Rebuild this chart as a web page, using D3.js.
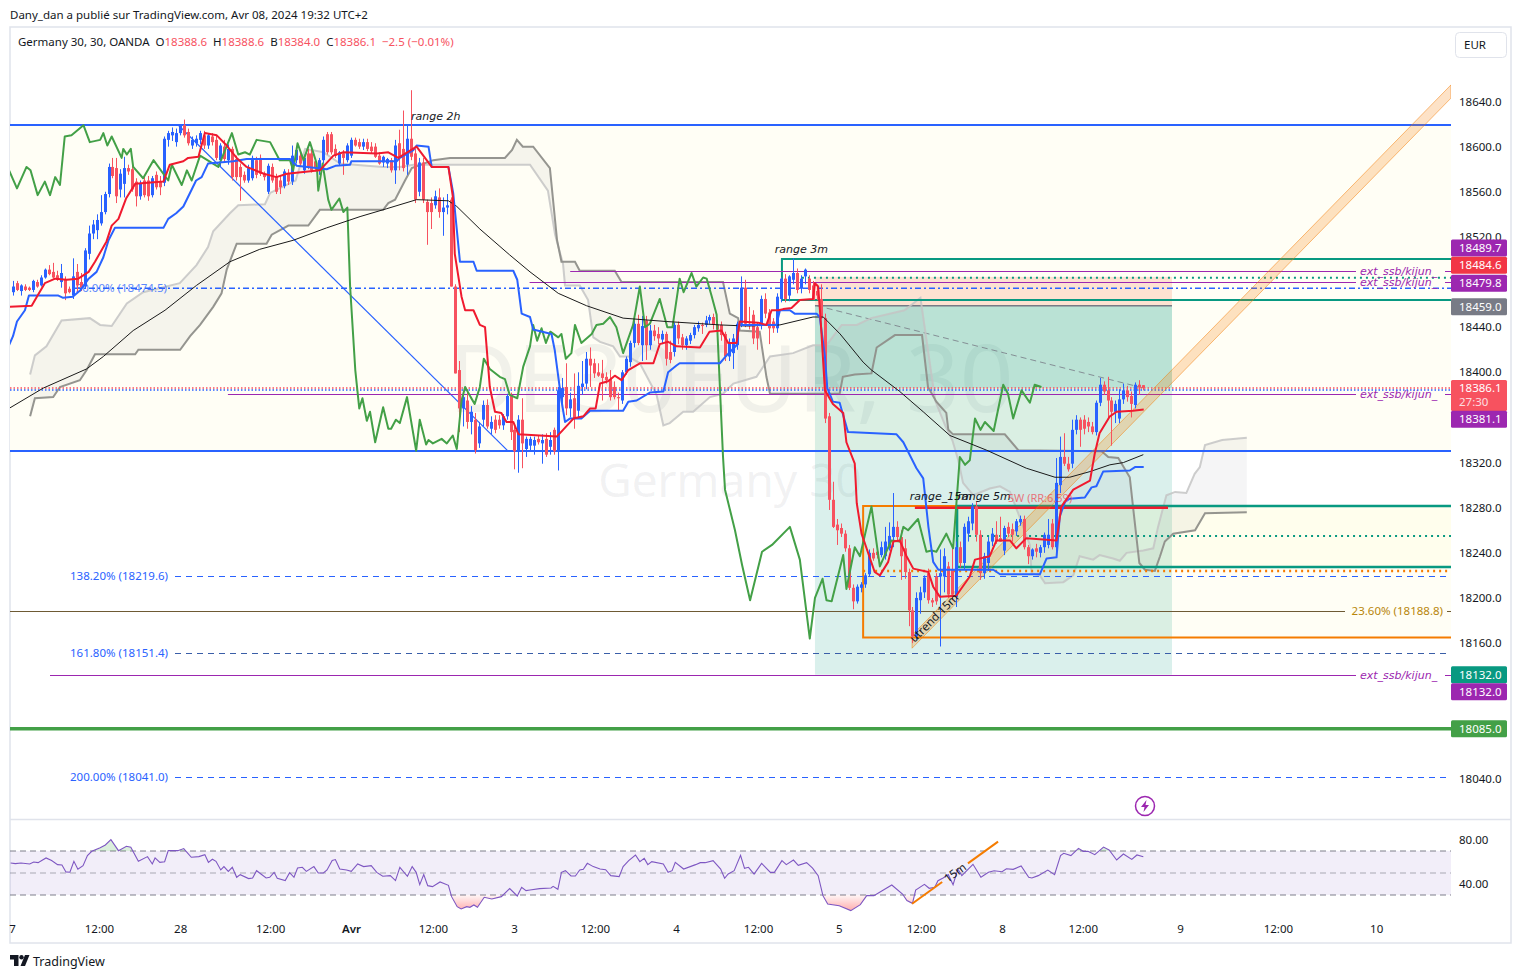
<!DOCTYPE html>
<html><head><meta charset="utf-8">
<script src="https://cdnjs.cloudflare.com/ajax/libs/d3/7.8.5/d3.min.js"></script>
<style>
html,body{margin:0;padding:0;background:#fff}
svg{display:block}
text{font-family:"Noto Sans",sans-serif}
text.it{font-family:"DejaVu Sans",sans-serif;font-style:italic}
</style></head><body>
<svg id="c" width="1521" height="979"></svg>
<script>
// ---------- DATA ----------
const priceTicks=[18640,18600,18560,18520,18440,18400,18320,18280,18240,18200,18160,18040];
const rsiTicks=[80,40];
const timeLabels=["7","12:00","28","12:00","Avr","12:00","3","12:00","4","12:00","5","12:00","8","12:00","9","12:00","10"];
const timeBars=[-0.25,21.6,42,64.6,84.9,105.5,125.9,146.2,166.6,187.2,207.5,228.1,248.5,268.8,293.2,317.8,342.5];
const candles=[
[18471,18481,18468,18476],[18479,18481,18472,18473],[18472,18478,18468,18477],[18476,18478,18472,18473],[18475,18476,18472,18473],[18473,18482,18471,18481],[18480,18482,18475,18476],[18477,18486,18476,18484],[18484,18492,18483,18491],[18491,18495,18486,18487],
[18489,18497,18483,18484],[18486,18490,18481,18482],[18480,18496,18475,18488],[18482,18485,18464,18470],[18474,18476,18470,18471],[18468,18501,18465,18485],[18489,18496,18471,18477],[18480,18488,18472,18475],[18476,18510,18474,18508],[18505,18530,18500,18523],
[18523,18535,18518,18531],[18526,18540,18518,18535],[18532,18557,18530,18542],[18542,18560,18540,18558],[18558,18585,18555,18582],[18582,18590,18572,18574],[18581,18590,18550,18556],[18562,18580,18555,18576],[18567,18591,18555,18581],[18581,18584,18575,18578],
[18580,18585,18560,18562],[18569,18572,18547,18556],[18556,18570,18553,18567],[18570,18573,18555,18557],[18570,18574,18552,18556],[18557,18574,18555,18572],[18575,18578,18562,18564],[18569,18574,18557,18564],[18568,18609,18565,18607],[18606,18614,18600,18612],
[18610,18617,18605,18613],[18604,18616,18600,18612],[18612,18620,18610,18619],[18619,18624,18608,18610],[18613,18616,18601,18603],[18601,18609,18598,18606],[18603,18610,18600,18607],[18606,18614,18602,18612],[18610,18614,18598,18601],[18601,18612,18598,18610],
[18609,18612,18601,18604],[18606,18610,18588,18590],[18588,18603,18582,18601],[18600,18606,18586,18589],[18588,18602,18584,18598],[18598,18600,18570,18573],[18589,18592,18570,18573],[18582,18585,18552,18573],[18575,18578,18568,18570],[18570,18584,18568,18581],
[18572,18592,18570,18590],[18588,18591,18572,18575],[18590,18593,18574,18576],[18576,18578,18570,18573],[18560,18585,18558,18583],[18582,18585,18568,18570],[18573,18576,18558,18560],[18570,18574,18558,18564],[18565,18580,18563,18578],[18576,18580,18566,18569],
[18569,18601,18566,18592],[18588,18600,18585,18597],[18592,18596,18582,18585],[18579,18593,18576,18590],[18594,18598,18580,18582],[18594,18600,18577,18579],[18587,18590,18578,18581],[18579,18590,18575,18588],[18588,18609,18585,18606],[18611,18613,18593,18595],
[18611,18613,18593,18595],[18598,18602,18590,18592],[18585,18596,18583,18595],[18594,18597,18575,18590],[18588,18603,18586,18601],[18592,18608,18590,18606],[18606,18608,18600,18601],[18604,18607,18598,18600],[18600,18607,18597,18604],[18604,18607,18596,18598],
[18600,18604,18594,18596],[18600,18603,18590,18591],[18592,18595,18584,18585],[18586,18592,18582,18591],[18585,18590,18581,18589],[18588,18590,18577,18579],[18579,18606,18567,18601],[18603,18615,18579,18590],[18598,18632,18578,18581],[18584,18619,18575,18607],
[18607,18650,18588,18591],[18594,18598,18550,18553],[18560,18590,18556,18586],[18586,18590,18550,18553],[18551,18553,18513,18542],[18550,18555,18527,18542],[18548,18561,18545,18556],[18555,18563,18537,18542],[18542,18555,18521,18546],[18546,18558,18540,18548],
[18553,18555,18476,18476],[18476,18478,18399,18399],[18402,18410,18347,18368],[18368,18382,18352,18378],[18375,18385,18350,18356],[18356,18370,18345,18365],[18358,18364,18328,18331],
[18337,18356,18333,18352],[18358,18375,18352,18371],[18371,18376,18350,18352],[18350,18361,18345,18356],[18358,18362,18346,18349],[18358,18362,18350,18353],[18353,18363,18349,18361],[18361,18381,18358,18379],[18380,18382,18340,18347],[18349,18352,18314,18330],
[18330,18362,18311,18358],[18358,18377,18315,18337],[18332,18343,18325,18341],[18335,18343,18331,18341],[18335,18343,18327,18340],[18341,18344,18336,18338],[18337,18345,18319,18340],[18341,18346,18325,18327],[18334,18347,18327,18340],[18349,18351,18327,18330],
[18330,18387,18313,18384],[18378,18395,18370,18386],[18387,18408,18362,18368],[18368,18382,18360,18376],[18377,18399,18350,18359],[18366,18400,18360,18388],[18387,18410,18380,18390],[18390,18418,18385,18412],[18412,18422,18387,18406],[18408,18412,18395,18399],
[18400,18408,18396,18397],[18399,18411,18375,18395],[18396,18400,18390,18393],[18394,18402,18375,18378],[18387,18392,18376,18378],[18378,18382,18366,18377],[18375,18402,18372,18400],[18400,18414,18398,18412],[18409,18428,18405,18426],[18426,18446,18422,18443],
[18443,18451,18424,18426],[18424,18450,18410,18441],[18446,18450,18411,18424],[18424,18442,18420,18437],[18437,18442,18428,18432],[18434,18440,18425,18430],[18429,18437,18425,18434],[18434,18436,18406,18412],[18418,18428,18408,18411],[18418,18444,18414,18442],
[18442,18445,18425,18430],[18431,18434,18420,18424],[18424,18432,18420,18430],[18428,18435,18425,18433],[18433,18442,18430,18440],[18439,18445,18436,18442],[18442,18444,18434,18441],[18442,18450,18440,18446],[18446,18451,18443,18449],[18449,18452,18438,18442],
[18442,18446,18436,18438],[18442,18445,18428,18433],[18434,18436,18410,18414],[18414,18430,18410,18426],[18417,18434,18403,18430],[18424,18445,18420,18443],[18443,18485,18440,18475],[18475,18482,18440,18443],[18443,18458,18438,18441],[18451,18455,18425,18430],
[18440,18444,18420,18430],[18442,18468,18438,18465],[18465,18470,18448,18452],[18453,18456,18425,18439],[18445,18448,18435,18439],[18439,18470,18435,18467],[18465,18484,18462,18483],[18483,18487,18462,18465],[18468,18486,18463,18485],[18482,18501,18478,18488],
[18488,18492,18470,18473],[18474,18486,18470,18483],[18485,18492,18478,18491],[18483,18486,18470,18473],[18477,18481,18464,18464],[18472,18476,18464,18468],[18465,18478,18447,18448],
[18448,18452,18355,18359],[18361,18364,18278,18287],[18287,18303,18262,18263],[18265,18270,18247,18260],[18262,18266,18254,18257],[18257,18260,18241,18244],[18244,18247,18207,18209],[18209,18212,18190,18197],[18197,18212,18195,18210],[18209,18214,18205,18212],
[18212,18222,18209,18220],[18221,18243,18219,18240],[18240,18244,18233,18235],[18241,18244,18235,18238],[18238,18250,18236,18245],[18237,18263,18234,18250],[18244,18267,18242,18255],[18254,18293,18245,18263],[18263,18268,18250,18254],[18254,18260,18216,18237],
[18244,18252,18217,18223],[18223,18226,18175,18189],[18189,18192,18160,18166],[18166,18205,18163,18200],[18198,18210,18186,18205],[18205,18220,18200,18218],[18222,18226,18195,18198],[18198,18200,18192,18196],[18219,18222,18194,18197],[18219,18243,18157,18222],
[18219,18244,18205,18237],[18228,18232,18200,18203],[18225,18244,18198,18203],[18201,18250,18192,18245],[18245,18250,18227,18231],[18231,18266,18225,18263],[18257,18272,18250,18268],[18266,18284,18260,18281],[18281,18285,18250,18256],[18256,18260,18216,18222],
[18222,18240,18217,18237],[18231,18254,18224,18250],[18250,18262,18246,18257],[18256,18268,18248,18250],[18253,18272,18250,18250],[18242,18264,18238,18262],[18263,18267,18254,18257],[18261,18266,18250,18256],[18259,18270,18255,18268],[18267,18273,18264,18270],
[18270,18273,18243,18245],[18245,18247,18230,18237],[18237,18244,18234,18243],[18244,18248,18236,18241],[18240,18247,18236,18245],[18245,18258,18240,18256],[18247,18270,18244,18256],[18266,18270,18243,18245],[18245,18324,18240,18302],[18300,18343,18293,18325],
[18325,18346,18317,18319],[18319,18325,18312,18314],[18319,18358,18315,18349],[18349,18362,18345,18358],[18358,18360,18334,18349],[18358,18362,18345,18350],[18356,18360,18347,18352],[18352,18356,18345,18347],[18347,18375,18344,18373],[18373,18395,18370,18389],
[18389,18392,18380,18383],[18384,18396,18359,18375],[18375,18378,18335,18365],[18365,18375,18355,18372],[18359,18385,18355,18376],[18376,18390,18372,18384],[18384,18388,18374,18378],[18379,18383,18360,18372],[18371,18391,18368,18389],[18389,18393,18380,18387],[18388.6,18388.6,18384,18386.1]];
const kijun=[[-1,18424],[0,18432],[1,18445],[3,18455],[4,18468],[11.4,18468],[12.6,18466],[15,18467],[17,18473],[19,18483],[21,18489],[22.7,18502],[24,18517],[25.6,18528],[37.8,18528],[39,18536],[41,18541],[42.8,18547],[44.9,18562],[46,18570],[47.4,18573],[49,18585],[55.4,18587],[58.7,18589],[69.6,18589],[71.3,18583],[78.8,18580],[81,18583],[84.7,18584],[85,18587],[96.4,18587],[97.2,18590],[100.6,18597],[101.4,18601],[104.4,18600],[105.2,18582],[109.4,18582],[110.6,18559],[112.3,18498],[115.7,18498],[116.5,18490],[125.7,18490],[126.7,18482],[127.8,18452],[129.9,18449],[130.7,18438],[135.3,18434],[136.1,18420],[137.8,18375],[138.7,18356],[139.9,18359],[142.8,18359],[145,18366],[153.3,18366],[154.6,18374],[156.7,18375],[160,18382],[163.4,18383],[164.6,18400],[166.7,18406],[167.5,18408],[177.6,18408],[179.3,18415],[181.8,18424],[182.2,18442],[191.8,18442],[192.7,18455],[195.2,18455],[196.4,18452],[201.9,18452],[202.7,18449],[204,18414],[204.6,18386],[206,18374],[207.7,18373],[209.8,18347],[222,18345],[223.7,18338],[227,18315],[228.7,18306],[230,18263],[231.2,18232],[232.5,18225],[246.3,18225],[248,18221],[258,18221],[259.7,18235],[262.2,18236],[263,18272],[264.3,18285],[265.5,18288],[269.3,18289],[271,18298],[272.2,18299],[273.9,18312],[280.6,18313],[281.9,18316],[284.1,18316]];
const tenkan=[[-1,18458],[4.7,18459],[6,18467],[8,18479],[10.6,18483],[13.5,18482],[16.4,18483],[19,18489],[20.6,18498],[23.5,18516],[24.8,18530],[26.5,18536],[28.4,18554],[30.7,18567],[37.8,18569],[39.4,18584],[42.8,18587],[44,18590],[46.6,18591],[48.2,18612],[51.2,18610],[53.7,18601],[56.2,18590],[58.7,18582],[63,18576],[66.2,18573],[68.8,18576],[77.1,18579],[80.5,18592],[83,18595],[91.4,18594],[94.3,18595],[96.8,18590],[101.4,18600],[105.2,18582],[109.4,18582],[110.5,18556],[111,18505],[112.7,18467],[113.6,18455],[115.7,18455],[117.3,18442],[118.6,18440],[119.8,18387],[121.1,18365],[122.7,18364],[124,18356],[125.7,18356],[127,18345],[136.6,18343],[138.2,18349],[140.8,18359],[143.3,18361],[145,18368],[146.4,18368],[147.5,18390],[149.5,18392],[151.2,18397],[152.9,18393],[154.6,18402],[157.5,18408],[160.9,18408],[162.5,18425],[164.6,18427],[166.7,18423],[172.6,18422],[175,18436],[178,18437],[179.7,18426],[181.8,18426],[182.6,18445],[187.2,18444],[189.3,18442],[190.6,18455],[192.3,18455],[193.5,18456],[195.6,18457],[197.7,18464],[201,18465],[201.5,18479],[202.3,18476],[202.9,18448],[204,18384],[206,18372],[208.6,18364],[209.4,18338],[211.5,18319],[212,18284],[213.2,18257],[216.5,18223],[217.8,18220],[219.9,18232],[221.2,18250],[222.8,18251],[224.5,18237],[226.2,18226],[230,18223],[231.2,18210],[232.9,18201],[237,18202],[240.4,18219],[241.7,18234],[245.4,18237],[247.1,18251],[250.5,18251],[252.1,18244],[254.6,18253],[262.2,18251],[263.4,18281],[266.4,18296],[270.6,18304],[271.8,18328],[273,18346],[275.6,18361],[277.3,18365],[281.4,18366],[284.1,18367]];
const chikou=[[-1,18579],[1,18563],[3.4,18582],[4.4,18579],[6.2,18557],[8,18569],[9.3,18557],[10.6,18573],[11.8,18566],[13,18609],[14.7,18610],[17.7,18619],[19.3,18604],[21.9,18606],[22.7,18612],[23.7,18601],[24.8,18609],[27.3,18590],[27.7,18598],[28.6,18593],[29.6,18598],[30.2,18582],[32.7,18572],[35.3,18588],[39,18570],[39.9,18584],[42.4,18566],[43.7,18579],[44.9,18570],[47,18592],[51.6,18582],[55,18612],[56.6,18593],[58.3,18595],[59.5,18593],[61.2,18606],[64.6,18604],[67,18588],[69.6,18588],[70.4,18579],[71.5,18603],[73,18588],[74.6,18604],[76.3,18585],[76.7,18561],[77.8,18585],[79.2,18553],[80,18544],[82,18554],[83,18542],[84,18546],[84.7,18476],[86,18402],[87,18368],[87.8,18377],[88.9,18357],[89.7,18365],[91,18338],[93,18369],[94.3,18350],[95,18350],[96.2,18358],[97.2,18355],[99,18378],[101.3,18330.5],[102.2,18358],[103.8,18336],[104.4,18340],[105.5,18337],[107.7,18341],[109,18337],[110.5,18344],[111.5,18332],[112.7,18375],[113.6,18387],[115,18378],[116,18372],[117.3,18387],[118.3,18412],[119.8,18403],[122.3,18396],[123.6,18394],[124.8,18380],[126.7,18377],[128.2,18405],[129.9,18423],[130.7,18442],[131.7,18428],[132.8,18439],[133.9,18426],[135,18436],[137,18431],[137.8,18434],[138.9,18412],[140.3,18417],[141.2,18442],[142.8,18426],[145.4,18434],[146.6,18442],[148.3,18443],[150,18449],[151.6,18440],[153.3,18417],[155.8,18442],[157.5,18476],[158.8,18440],[160,18443],[162.5,18465],[164.4,18440],[165.7,18440],[167.5,18483],[168.5,18471],[170.5,18488],[171.7,18476],[173.4,18484],[174.3,18483],[175.5,18468],[176.8,18451],[178.4,18325],[178.9,18296],[181.4,18260],[183.2,18229],[185.2,18198],[188.2,18241],[190.7,18247],[195.2,18263],[197.7,18234],[200.2,18164],[201.5,18200],[203.4,18217],[204.4,18198],[205.7,18197],[208.6,18238],[209.4,18208],[211.5,18245],[212.8,18237],[215.7,18281],[217.8,18228],[220.7,18251],[222.8,18250],[223.7,18263],[224.9,18260],[227.4,18270],[229.5,18241],[230.8,18242],[232,18241],[234.5,18257],[236.2,18244],[237.9,18325],[239.2,18318],[240.4,18322],[241.7,18359],[243.1,18349],[244.2,18356],[246.4,18348],[248.8,18389],[250,18381],[251.3,18359],[253.4,18384],[255.5,18373],[256.7,18389],[258.4,18387]];
const sma=[[-1,18368],[7.6,18386],[18.5,18403],[22.7,18414],[30.2,18437],[38.2,18455],[46.1,18477],[54.5,18498],[62,18509],[70.4,18517],[78.8,18528],[87.2,18538],[93.9,18545],[101.4,18553],[109.4,18552],[111.5,18547],[117.3,18527],[124.8,18504],[129.9,18489],[137,18470],[144.1,18459],[153.3,18448],[164.2,18445],[177.6,18442],[184.3,18441],[192.7,18442],[201,18449],[203.6,18449],[207.8,18434],[213.6,18409],[215.7,18402],[222.8,18383],[228.7,18365],[235.4,18344],[244.6,18331],[254.6,18315],[261.8,18307],[265.5,18307],[270.6,18312],[275.6,18318],[279,18320],[284,18327]];
const senkouA=[[4.3,18398],[5.5,18415],[8.4,18423],[12.2,18446],[19.3,18448],[21.9,18442],[24.8,18441],[28.6,18461],[32.7,18471],[41.9,18479],[46.1,18495],[49,18511],[50.3,18525],[54.5,18541],[56.6,18548],[63.3,18549],[64.6,18559],[71,18570],[73.4,18598],[78,18595],[82.2,18585],[88.9,18583],[93,18582],[97.2,18582],[100.6,18584],[104.8,18584],[117.3,18584],[123.6,18584],[129.9,18584],[134.4,18561],[136.2,18522],[138.2,18496],[138.7,18477],[142.4,18477],[144.5,18464],[145.8,18431],[147.5,18427],[150.8,18423],[152.5,18414],[154.6,18414],[157.5,18408],[161.7,18380],[163.4,18353],[165,18355],[168.4,18365],[170.9,18365],[175.1,18378],[178.4,18381],[181,18390],[186.8,18396],[190.2,18414],[196,18417],[201,18424],[204.4,18424],[208.2,18442],[212,18442],[215.6,18448],[224,18455],[228,18466],[231.7,18375],[234.2,18353],[236,18340],[237.5,18322],[238.7,18302],[241.3,18291],[245.4,18297],[248,18299],[250.5,18294],[253,18271],[255.5,18247],[255.9,18222],[258,18220],[259.3,18213],[263.9,18214],[266.4,18220],[268,18237],[271.4,18234],[273,18238],[276.4,18235],[278.1,18233],[279.8,18240],[284,18242],[286.5,18244],[287.7,18263],[289.8,18291],[292,18294],[294.8,18293],[296.9,18310],[298.2,18316],[299.5,18335.5],[303.8,18340],[310,18342]];
const senkouB=[[4.3,18361],[5.5,18377],[10.1,18378],[11.8,18387],[16.8,18393],[18.5,18402],[20.6,18416],[30.7,18416],[31.5,18420],[42,18420],[44.5,18432],[47,18442],[50.3,18458],[52.4,18470],[53.7,18491],[56.2,18514],[63.7,18514],[65,18522],[69.2,18530],[74.2,18530],[77.1,18544],[93,18544],[94.3,18550],[96,18553],[98.5,18570],[100.2,18581],[105.6,18588],[109.8,18590],[123.6,18590],[125.4,18597],[126.6,18606],[128.1,18600],[130.7,18600],[134.9,18581],[136.7,18517],[137.8,18498],[141.2,18498],[142.4,18490],[151.2,18490],[152.9,18480],[178.4,18480],[180.1,18452],[182.2,18448],[182.6,18437],[187.6,18436],[189.3,18396],[190.2,18381],[207.7,18381],[208.5,18396],[211.5,18398],[215.7,18399],[217,18422],[221.6,18433],[228.4,18433],[229.9,18387],[232,18374],[234.5,18364],[235,18349],[236.2,18345],[249.2,18345],[252.6,18331],[273.5,18330],[275.2,18325],[277.7,18324],[280.6,18307],[281.5,18278],[283,18231],[284.4,18225],[286.9,18224],[288.2,18237],[289.4,18250],[291.5,18257],[297,18260],[299.5,18275],[310,18276]];
const rsi=[[-0.6,59.1],[0.6,58.5],[2,59.1],[4.2,58.2],[5.2,60],[6.3,59.4],[8.3,63.7],[9.7,61.3],[11.2,57.6],[12.3,57.3],[13.3,51],[14.3,50.7],[15.3,60.6],[16.3,53.4],[17.6,56.7],[18.7,65.8],[19.8,69.7],[21.9,73],[23.2,75.5],[24.6,80.3],[26.5,70.3],[28.5,74.3],[29.6,73.4],[31.5,60.6],[33.8,64.9],[35,58.2],[35.7,63.7],[36.9,59.7],[38.1,60.3],[39,70.3],[41.4,70.3],[42.9,72.2],[44.8,64.3],[46.7,64.9],[48.2,66.7],[49.1,59.7],[50.1,62.5],[51,60.6],[52.2,52.8],[53,55.8],[54.1,51.5],[55.1,55.2],[56.2,46.1],[57.1,48.5],[59.2,44.9],[60.2,45.5],[61.2,52.1],[63.6,45.5],[64.5,46.1],[65.6,50.6],[66.4,45.2],[68.4,43.1],[69.5,50.3],[70.6,46.1],[71.5,54.6],[72.7,55.2],[73.7,51.5],[75.6,55.8],[76.7,50],[78,50],[78.9,52.8],[80.2,61.3],[81,62.2],[82.1,53.7],[83.8,52.8],[85,51.5],[86.6,58.2],[88.1,55.8],[90,56.7],[91.4,50.6],[92.9,47],[94.8,47.6],[96.1,43.1],[97.2,55.2],[99.1,47],[100.3,55.8],[101.3,50.6],[102.2,39.4],[103.2,48.5],[104.2,38.5],[105.4,37.6],[107.3,41.9],[109.4,38.8],[110.2,28.5],[111.6,19.4],[112.6,17.3],[114,19.4],[114.8,18.8],[115.8,20.9],[116.7,18.8],[118.4,27.9],[120.3,26.4],[122.7,28.5],[124.8,35.8],[126.7,29.1],[127.8,37],[128.9,34],[129.9,34.6],[132.3,35.8],[135.2,36.4],[135.7,37.9],[136.9,35.2],[137.8,50.6],[138.8,52.1],[140.2,47.3],[141.3,47.3],[142.4,52.8],[143.3,53.4],[144.3,58.8],[145.8,55.8],[147.5,53.6],[148.9,53],[150.2,47.6],[152.3,46.7],[153.3,55.8],[154.7,61.2],[156.4,66.4],[157.5,60.3],[158.6,63.3],[159.5,57.6],[160.5,60.3],[163.4,58.2],[164.6,50.6],[165.6,52.1],[166.4,59.7],[168.5,53.6],[171.5,57.6],[172.7,59.4],[173.9,59.4],[175.9,61.2],[177.8,53.6],[178.8,45.2],[179.7,49.1],[181.2,52.1],[182.8,66.1],[183.8,54.2],[184.8,55.2],[186.2,49.1],[188.1,58.8],[190.3,50.6],[191.3,50.6],[193.2,61.2],[194.3,57.6],[196.1,61.8],[197.3,57],[199.4,59.4],[200.9,54.5],[202.3,47.6],[203.5,29.4],[204.7,21.8],[207.6,20.3],[210.5,15.8],[212.9,21.2],[214.5,29.4],[216.3,29.4],[220.8,39.1],[223.5,30.9],[224.6,24.9],[226,22.4],[226.8,34.5],[229,39.7],[230.2,36.1],[231.6,37],[232.4,43],[233.7,45.5],[235,48.5],[236.2,39.4],[237.4,53.6],[238.4,47.6],[241.2,57.9],[243.2,46.1],[245.1,50.6],[246.5,52.1],[248.5,51.2],[249.6,53.9],[251.3,53.3],[253.3,56.4],[255.2,46.1],[256,45.5],[257.6,47.6],[260,52.7],[261.7,48.5],[263.2,65.8],[264,67.9],[265.8,65.8],[267.7,72.4],[268.9,69.7],[270.1,69.7],[271.8,66.7],[274,73.6],[275.4,70.9],[277.3,61.8],[279,67.3],[281.1,62.4],[282.4,66.4],[284,64.8]];
// levels
const rangeHigh=18619.2, rangeLow=18330.2;
const diagBars=[41.5,124.4], diagPrices=[18619.2,18330.2];
const channelBars=[225.9,361.3], channelUpper=[18167,18654.7], channelLower=[18155.5,18643];
const posBars=[201.5,291.2], posTop=18484.6, posEntry=18459, posStop=18132, lastPrice=18386.1;
const ext=[{v:18489.7,from:140},{v:18479.8,from:129.8},{v:18381.1,from:54},{v:18132,from:9.3}];
const fibs=[["138.20% (18219.6)",18219.6],["161.80% (18151.4)",18151.4],["200.00% (18041.0)",18041.0]];
const tagValues=["18489.7","18484.6","18479.8","18459.0","18386.1","18381.1","18132.0","18132.0","18085.0"];
const rsiTrend=[[225.9,22],[247.5,78.5]];

// ---------- SCALES ----------
const svg=d3.select("#c");
const x=d3.scaleLinear().domain([0,284]).range([13,13+3.98*284]);
const y=d3.scaleLinear().domain([18640,18040]).range([101.5,778.5]);
const ry=d3.scaleLinear().domain([80,40]).range([840,884]);
const L=10,R=1451;
const line=d3.line().x(d=>x(d[0])).y(d=>y(d[1]));
const rline=d3.line().x(d=>x(d[0])).y(d=>ry(d[1]));
const defs=svg.append("defs");
defs.append("clipPath").attr("id","main").append("rect").attr("x",L).attr("y",28).attr("width",R-L).attr("height",791);
defs.append("clipPath").attr("id","ob").append("rect").attr("x",L).attr("y",820).attr("width",R-L).attr("height",ry(70)-820);
defs.append("clipPath").attr("id","os").append("rect").attr("x",L).attr("y",ry(30)).attr("width",R-L).attr("height",30);
const gr=defs.append("linearGradient").attr("id","osg").attr("gradientUnits","userSpaceOnUse").attr("x1",0).attr("x2",0).attr("y1",ry(30)).attr("y2",ry(15));
gr.append("stop").attr("offset",0).attr("stop-color","#ff5252").attr("stop-opacity",.05);
gr.append("stop").attr("offset",1).attr("stop-color","#ff5252").attr("stop-opacity",.5);

function hl(g,v,x0,x1,col,w,dash,op){const yy=w<=1?Math.round(y(v))+.5:y(v);return g.append("line").attr("x1",x0).attr("x2",x1).attr("y1",yy).attr("y2",yy).attr("stroke",col).attr("stroke-width",w).attr("stroke-dasharray",dash||null).attr("opacity",op==null?1:op);}

// header
svg.append("text").attr("x",10).attr("y",19).attr("font-size",11.5).attr("fill","#131722").text("Dany_dan a publié sur TradingView.com, Avr 08, 2024 19:32 UTC+2");
// frame
svg.append("rect").attr("x",10).attr("y",27).attr("width",1501).attr("height",916).attr("fill","#fff").attr("stroke","#e0e3eb").attr("stroke-width",1.5);
svg.append("line").attr("x1",10).attr("x2",1511).attr("y1",819.5).attr("y2",819.5).attr("stroke","#e0e3eb").attr("stroke-width",1.5);

const g=svg.append("g").attr("clip-path","url(#main)");
// zones
g.append("rect").attr("x",L).attr("y",y(rangeHigh)).attr("width",R-L).attr("height",y(rangeLow)-y(rangeHigh)).attr("fill","#fffef5");
g.append("rect").attr("x",x(213.6)).attr("y",y(18281.5)).attr("width",R-x(213.6)).attr("height",y(18165)-y(18281.5)).attr("fill","#fffef5");
g.append("rect").attr("x",x(237.2)).attr("y",y(18281.5)).attr("width",R-x(237.2)).attr("height",y(18227.5)-y(18281.5)).attr("fill","#fffde9").attr("opacity",.7);
// watermark
g.append("text").attr("x",731).attr("y",412).attr("text-anchor","middle").attr("font-size",94).attr("fill","rgba(120,123,134,.1)").text("DE30EUR, 30");
g.append("text").attr("x",730).attr("y",497).attr("text-anchor","middle").attr("font-size",46).attr("fill","rgba(120,123,134,.1)").text("Germany 30");
// position tool
const px0=x(posBars[0]),px1=x(posBars[1]);
g.append("rect").attr("x",px0).attr("y",y(posTop)).attr("width",px1-px0).attr("height",y(posEntry)-y(posTop)).attr("fill","#f4511e").attr("opacity",.16);
g.append("rect").attr("x",px0).attr("y",y(posEntry)).attr("width",px1-px0).attr("height",y(lastPrice)-y(posEntry)).attr("fill","#089981").attr("opacity",.28);
g.append("rect").attr("x",px0).attr("y",y(lastPrice)).attr("width",px1-px0).attr("height",y(posStop)-y(lastPrice)).attr("fill","#089981").attr("opacity",.15);
hl(g,posEntry,px0,px1,"#787b86",1.5);
g.append("line").attr("x1",x(202)).attr("y1",y(18459)).attr("x2",x(284)).attr("y2",y(18386.1)).attr("stroke","#787b86").attr("stroke-dasharray","6 4").attr("opacity",.8);
// cloud
g.append("path").attr("d",line(senkouA.concat(senkouB.slice().reverse()))+"Z").attr("fill","rgba(120,123,134,.075)");
g.append("path").attr("d",line(senkouA)).attr("fill","none").attr("stroke","#c4c4c4").attr("stroke-width",2).attr("opacity",.85);
g.append("path").attr("d",line(senkouB)).attr("fill","none").attr("stroke","#8f8f8a").attr("stroke-width",2).attr("opacity",.95);
// range box lines
hl(g,rangeHigh,L,R,"#2962ff",2);
hl(g,rangeLow,L,R,"#2962ff",2);
hl(g,18084.2,L,R,"#43a047",3.5);
g.append("line").attr("x1",x(diagBars[0])).attr("y1",y(diagPrices[0])).attr("x2",x(diagBars[1])).attr("y2",y(diagPrices[1])).attr("stroke","#2962ff").attr("stroke-width",1.2);
// orange box
const ox=x(213.6);
g.append("path").attr("d",`M${R},${y(18281.5)}H${ox}V${y(18165)}H${R}`).attr("fill","none").attr("stroke","#f57c00").attr("stroke-width",2);
hl(g,18224,ox,R,"#f57c00",2.5,"2 4");
// teal zone
const tx=x(193.2);
g.append("path").attr("d",`M${R},${y(18500.4)}H${tx}V${y(18464)}H${R}`).attr("fill","none").attr("stroke","#089981").attr("stroke-width",2);
hl(g,18483.9,tx+20,R,"#089981",2,"2 4");
const tx2=x(237.2);
g.append("path").attr("d",`M${R},${y(18281.5)}H${tx2}V${y(18227.5)}H${R}`).attr("fill","none").attr("stroke","#089981").attr("stroke-width",2.5);
hl(g,18255,tx2,R,"#089981",2,"2 4");
hl(g,18280,x(226.6),x(290.2),"#f01a2e",2.5);
// fib lines
hl(g,18474.5,75,R,"#2962ff",1.5,"6 3 2 3");
fibs.forEach((f,i)=>{
  hl(g,f[1],175,R,i==1?"#3a5ea8":"#2962ff",1,"6 5");
  g.append("text").attr("x",168).attr("y",y(f[1])+4).attr("text-anchor","end").attr("font-size",11.5).attr("fill","#2962ff").text(f[0]);
});
g.append("text").attr("x",167).attr("y",y(18474.5)+4).attr("text-anchor","end").attr("font-size",11.5).attr("fill","#2962ff").attr("opacity",.75).text("50.00% (18474.5)");
hl(g,18188.8,L,1345,"#6e5a34",1);
hl(g,18188.8,1447,R,"#6e5a34",1);
g.append("text").attr("x",1443).attr("y",y(18188.8)+4).attr("text-anchor","end").attr("font-size",11.5).attr("fill","#b8860b").text("23.60% (18188.8)");
// ext lines
ext.forEach(e=>{
  hl(g,e.v,x(e.from),1356,"#9c27b0",1);
  hl(g,e.v,1445,R,"#9c27b0",1);
  g.append("text").attr("class","it").attr("x",1360).attr("y",y(e.v)+4).attr("font-size",11).attr("fill","#9c27b0").text("ext_ssb/kijun_");
});
// last price
hl(g,lastPrice,L,R,"#f7525f",1.5,"1.5 2");
hl(g,lastPrice-1.8,L,R,"#2962ff",1.5,"1.5 2");
// channel
const cpoly=[[channelBars[0],channelUpper[0]],[channelBars[1],channelUpper[1]],[channelBars[1],channelLower[1]],[channelBars[0],channelLower[0]]];
g.append("path").attr("d",line(cpoly)+"Z").attr("fill","#f57c00").attr("fill-opacity",.22).attr("stroke","#f57c00").attr("stroke-opacity",.5);
// candles
const up="#2962ff",dn="#f7525f";
const cg=g.append("g").selectAll("g").data(candles).join("g");
cg.append("rect").attr("x",(d,i)=>Math.round(x(i))).attr("width",1).attr("y",d=>y(d[1])).attr("height",d=>y(d[2])-y(d[1])).attr("fill",d=>d[3]>=d[0]?up:dn);
cg.append("rect").attr("x",(d,i)=>Math.round(x(i))-1).attr("width",3).attr("y",d=>y(Math.max(d[0],d[3]))).attr("height",d=>Math.max(1,Math.abs(y(d[0])-y(d[3])))).attr("fill",d=>d[3]>=d[0]?up:dn);
// series over the candles
[[chikou,"#43a047",2],[sma,"#1a1a1a",1],[kijun,"#2962ff",2],[tenkan,"#f01a2e",2]].forEach(s=>{
  g.append("path").attr("d",line(s[0])).attr("fill","none").attr("stroke",s[1]).attr("stroke-width",s[2]).attr("stroke-linejoin","round");
});
// annotations
const note=(t,bar,p,col)=>g.append("text").attr("class","it").attr("x",x(bar)).attr("y",y(p)).attr("font-size",11).attr("fill",col||"#131722").text(t);
note("range 2h",100,18624);
note("range 3m",191.4,18505.5);
note("range_15m",225.3,18287);
note("range 5m",237.3,18287);
g.append("text").attr("x",x(250)).attr("y",y(18285)).attr("font-size",11).attr("fill","#f23645").attr("opacity",.65).text("SW (RR:6.59)");
g.append("text").attr("transform",`translate(${x(226.5)},${y(18160)}) rotate(-45)`).attr("font-size",11.5).attr("fill","#131722").text("utrend 15m");
// lightning
const lg=svg.append("g").attr("transform","translate(1145,806)");
lg.append("circle").attr("r",9.5).attr("fill","none").attr("stroke","#9c27b0").attr("stroke-width",1.5);
lg.append("path").attr("d","M1.5,-6 L-4,1 H-0.5 L-1.5,6 L4,-1 H0.5 Z").attr("fill","#9c27b0");

// RSI
const rg=svg.append("g");
rg.append("rect").attr("x",L).attr("y",ry(70)).attr("width",R-L).attr("height",ry(30)-ry(70)).attr("fill","#7e57c2").attr("opacity",.1);
[[70,"#787b86",.95],[50,"#787b86",.6],[30,"#787b86",.95]].forEach(l=>{
  rg.append("line").attr("x1",L).attr("x2",R).attr("y1",ry(l[0])).attr("y2",ry(l[0])).attr("stroke",l[1]).attr("opacity",l[2]).attr("stroke-dasharray","6 4");
});
const ra=t=>d3.area().x(d=>x(d[0])).y0(ry(t)).y1(d=>ry(d[1]));
rg.append("g").attr("clip-path","url(#ob)").append("path").attr("d",ra(70)(rsi)).attr("fill","#4caf50").attr("opacity",.2);
rg.append("g").attr("clip-path","url(#os)").append("path").attr("d",ra(30)(rsi)).attr("fill","url(#osg)");
rg.append("path").attr("d",rline(rsi)).attr("fill","none").attr("stroke","#7e57c2").attr("stroke-width",1.1);
// RSI trend line with gap for its label
const tp=t=>[rsiTrend[0][0]+(rsiTrend[1][0]-rsiTrend[0][0])*t,rsiTrend[0][1]+(rsiTrend[1][1]-rsiTrend[0][1])*t];
[[0,.35],[.65,1]].forEach(s=>rg.append("path").attr("d",rline([tp(s[0]),tp(s[1])])).attr("stroke","#f57c00").attr("stroke-width",2).attr("fill","none"));
const lp=tp(.5);
rg.append("text").attr("transform",`translate(${x(lp[0])},${ry(lp[1])}) rotate(-36)`).attr("text-anchor","middle").attr("dy",4).attr("font-size",11.5).attr("fill","#131722").text("15m");

// axes
const ya=svg.append("g").attr("transform",`translate(${R},0)`).call(d3.axisRight(y).tickValues(priceTicks).tickSize(0).tickPadding(8).tickFormat(d3.format(".1f")));
const rya=svg.append("g").attr("transform",`translate(${R},0)`).call(d3.axisRight(ry).tickValues(rsiTicks).tickSize(0).tickPadding(8).tickFormat(d3.format(".2f")));
const xa=svg.append("g").attr("transform","translate(0,925)").call(d3.axisBottom(x).tickValues(timeBars).tickSize(0).tickPadding(0).tickFormat((d,i)=>timeLabels[i]));
[ya,rya,xa].forEach(a=>{a.select(".domain").remove();a.selectAll("text").attr("font-size",11.5).attr("fill","#131722");});
xa.selectAll("text").filter((d,i)=>timeLabels[i]==="Avr").attr("font-weight",600);

// tags
const tagCols=["#9c27b0","#f23645","#9c27b0","#787b86","#f7525f","#9c27b0","#089981","#9c27b0","#43a047"];
const tagOff=[-23,-11.5,1,1,0,25.7,0,17,1];
tagValues.forEach((t,i)=>{
  const c=y(+t)+tagOff[i];
  const h=i==4?31:17, top=i==4?y(+t)-8:c-8.5;
  svg.append("rect").attr("x",R).attr("y",top).attr("width",56).attr("height",h).attr("rx",1.5).attr("fill",tagCols[i]);
  svg.append("text").attr("x",R+8).attr("y",(i==4?y(+t):c)+4).attr("font-size",11.5).attr("fill","#fff").text(t);
  if(i==4)svg.append("text").attr("x",R+8).attr("y",y(+t)+18).attr("font-size",11.5).attr("fill","#fff").attr("opacity",.8).text("27:30");
});
// EUR button
svg.append("rect").attr("x",1455.5).attr("y",32.5).attr("width",51).attr("height",25).attr("rx",4).attr("fill","#fff").attr("stroke","#e0e3eb");
svg.append("text").attr("x",1464).attr("y",48.5).attr("font-size",11.5).attr("fill","#131722").text("EUR");
// legend
const lgd=svg.append("text").attr("x",18).attr("y",46).attr("font-size",11.5).attr("fill","#131722").attr("xml:space","preserve");
[["Germany 30, 30, OANDA  ","#131722"],["O","#131722"],["18388.6  ","#f7525f"],["H","#131722"],["18388.6  ","#f7525f"],["B","#131722"],["18384.0  ","#f7525f"],["C","#131722"],["18386.1  ","#f7525f"],["−2.5 (−0.01%)","#f7525f"]].forEach(s=>lgd.append("tspan").attr("fill",s[1]).text(s[0]));
// logo
const lo=svg.append("g").attr("fill","#131722");
lo.append("path").attr("d","M10,955H18.5V966H14V959.5H10Z");
lo.append("circle").attr("cx",21.5).attr("cy",957.2).attr("r",2.2);
lo.append("path").attr("d","M25,955H29.5L25,966H20.5Z");
svg.append("text").attr("x",33).attr("y",966).attr("font-size",12.5).attr("fill","#131722").text("TradingView");
</script>
</body></html>
